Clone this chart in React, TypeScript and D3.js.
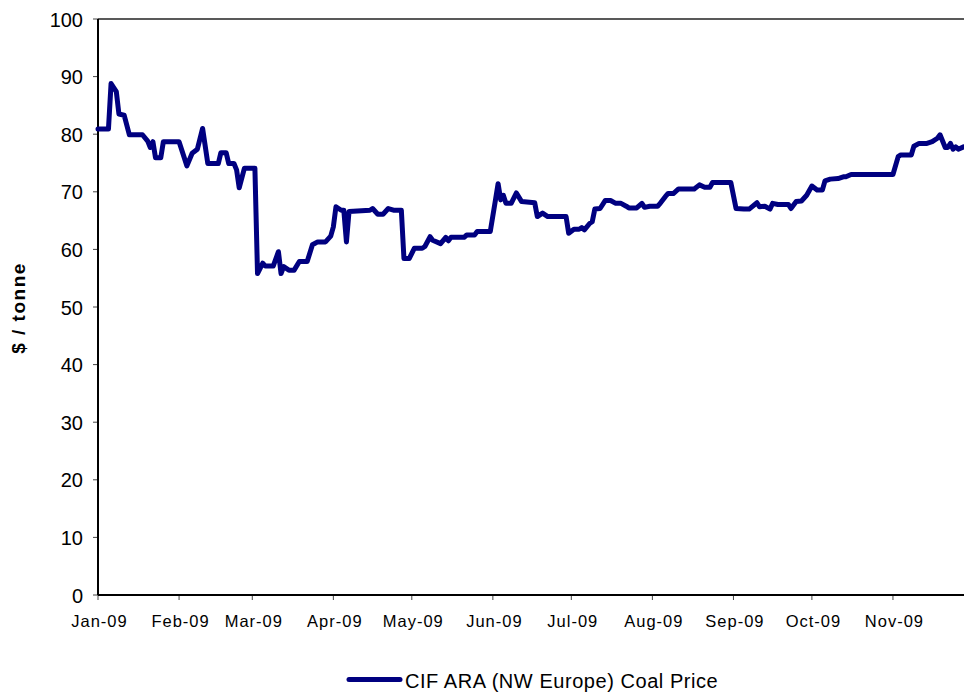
import React from "react";
import * as d3 from "d3";

const dates: string[] = [
  "2009-01-01","2009-01-05","2009-01-06","2009-01-08","2009-01-09","2009-01-11","2009-01-13","2009-01-18",
  "2009-01-20","2009-01-21","2009-01-22","2009-01-23","2009-01-25","2009-01-26","2009-02-01","2009-02-04",
  "2009-02-06","2009-02-08","2009-02-10","2009-02-12","2009-02-16","2009-02-17","2009-02-19","2009-02-20",
  "2009-02-22","2009-02-23","2009-02-24","2009-02-26","2009-03-02","2009-03-03","2009-03-05","2009-03-06",
  "2009-03-09","2009-03-11","2009-03-12","2009-03-13","2009-03-15","2009-03-17","2009-03-19","2009-03-22",
  "2009-03-24","2009-03-26","2009-03-29","2009-03-31","2009-04-01","2009-04-02","2009-04-04","2009-04-05",
  "2009-04-06","2009-04-07","2009-04-15","2009-04-16","2009-04-18","2009-04-20","2009-04-22","2009-04-24",
  "2009-04-27","2009-04-28","2009-04-30","2009-05-02","2009-05-05","2009-05-06","2009-05-08","2009-05-09",
  "2009-05-12","2009-05-14","2009-05-15","2009-05-16","2009-05-21","2009-05-22","2009-05-25","2009-05-26",
  "2009-05-31","2009-06-02","2009-06-03","2009-06-04","2009-06-05","2009-06-06","2009-06-08","2009-06-10",
  "2009-06-12","2009-06-17","2009-06-18","2009-06-20","2009-06-22","2009-06-29","2009-06-30","2009-07-02",
  "2009-07-04","2009-07-05","2009-07-06","2009-07-08","2009-07-09","2009-07-10","2009-07-12","2009-07-14",
  "2009-07-16","2009-07-18","2009-07-20","2009-07-22","2009-07-23","2009-07-26","2009-07-28","2009-07-29",
  "2009-07-31","2009-08-03","2009-08-04","2009-08-06","2009-08-07","2009-08-09","2009-08-11","2009-08-17",
  "2009-08-19","2009-08-21","2009-08-23","2009-08-24","2009-08-31","2009-09-02","2009-09-05","2009-09-07",
  "2009-09-10","2009-09-11","2009-09-13","2009-09-15","2009-09-16","2009-09-18","2009-09-22","2009-09-23",
  "2009-09-25","2009-09-27","2009-09-29","2009-10-01","2009-10-03","2009-10-05","2009-10-06","2009-10-08",
  "2009-10-11","2009-10-13","2009-10-14","2009-10-16","2009-11-01","2009-11-03","2009-11-04","2009-11-08",
  "2009-11-09","2009-11-11","2009-11-14","2009-11-16","2009-11-18","2009-11-19","2009-11-21","2009-11-22",
  "2009-11-23","2009-11-24","2009-11-25","2009-11-26","2009-11-28"
];

const prices: number[] = [
  80.9,80.9,88.8,87.4,83.5,83.3,79.9,79.9,
  78.8,77.7,78.7,75.9,75.9,78.7,78.7,74.5,
  76.7,77.4,81.0,74.9,74.9,76.8,76.8,74.9,
  74.9,73.8,70.7,74.1,74.1,55.8,57.6,57.1,
  57.1,59.6,55.8,57.0,56.4,56.4,57.9,57.9,
  60.8,61.3,61.3,62.3,63.9,67.4,66.8,66.8,
  61.3,66.6,66.8,67.1,66.1,66.1,67.1,66.8,
  66.8,58.4,58.4,60.2,60.2,60.5,62.2,61.6,
  61.0,62.1,61.5,62.1,62.1,62.5,62.5,63.1,
  63.1,68.6,71.4,68.6,69.4,68.0,68.0,69.8,
  68.3,68.1,65.7,66.3,65.7,65.7,62.8,63.5,
  63.5,63.8,63.4,64.5,64.8,67.0,67.1,68.5,
  68.5,68.0,68.0,67.5,67.2,67.2,68.0,67.3,
  67.5,67.5,68.0,69.2,69.7,69.7,70.5,70.5,
  71.2,70.8,70.8,71.6,71.6,67.1,67.0,67.0,
  68.1,67.4,67.5,67.0,68.0,67.8,67.8,67.1,
  68.3,68.4,69.4,71.0,70.3,70.3,71.9,72.2,
  72.3,72.6,72.6,73.0,73.0,76.1,76.4,76.4,
  77.9,78.4,78.4,78.7,79.3,79.9,77.7,77.7,
  78.4,77.4,77.8,77.4,77.8
];

const yTicks: number[] = [0, 10, 20, 30, 40, 50, 60, 70, 80, 90, 100];
const seriesName = "CIF ARA (NW Europe) Coal Price";
const yTitle = "$ / tonne";

export default function App() {
  const W = 964, H = 693;
  const left = 98, right = 964, top = 19, bottom = 595;
  const parse = d3.timeParse("%Y-%m-%d");
  const data = dates.map((d, i) => ({ date: parse(d) as Date, value: prices[i] }));

  const x = d3.scaleTime()
    .domain([new Date(2009, 0, 1), new Date(2009, 10, 28, 4)])
    .range([left, right]);
  const y = d3.scaleLinear().domain([0, 100]).range([bottom, top]);

  const monthTicks = d3.timeMonth.range(new Date(2009, 0, 1), new Date(2009, 11, 1));
  const fmt = d3.timeFormat("%b-%y");

  const line = d3.line<{ date: Date; value: number }>()
    .x(d => x(d.date))
    .y(d => y(d.value));

  const font = "Arial, 'Liberation Sans', sans-serif";

  return (
    <svg width={W} height={H} style={{ position: "absolute", left: 0, top: 0, display: "block", background: "#fff" }}>
      {/* top border */}
      <line x1={left} x2={right} y1={top} y2={top} stroke="#222" strokeWidth={1.5} />
      {/* y ticks & labels */}
      {yTicks.map(t => (
        <g key={t}>
          <line x1={left - 5} x2={left} y1={y(t)} y2={y(t)} stroke="#444" strokeWidth={1} />
          <text x={83} y={y(t) + 7.5} textAnchor="end" fontFamily={font} fontSize={20} fill="#000">{t}</text>
        </g>
      ))}
      {/* x ticks & labels */}
      {monthTicks.map(m => (
        <g key={m.getTime()}>
          <line x1={x(m)} x2={x(m)} y1={bottom} y2={bottom + 5} stroke="#444" strokeWidth={1} />
          <text x={x(m) + 1.5} y={627} textAnchor="middle" fontFamily={font} fontSize={16.5} letterSpacing={1} fill="#000">{fmt(m)}</text>
        </g>
      ))}
      {/* axes */}
      <line x1={left} x2={left} y1={top} y2={bottom} stroke="#000" strokeWidth={2} />
      <line x1={left} x2={right} y1={bottom} y2={bottom} stroke="#000" strokeWidth={2} />
      {/* series */}
      <path d={line(data) || ""} fill="none" stroke="#000080" strokeWidth={5} strokeLinejoin="round" strokeLinecap="round" />
      {/* y title */}
      <text transform={`translate(24.5,308) rotate(-90)`} textAnchor="middle" fontFamily={font} fontWeight="bold" fontSize={19} letterSpacing={1.5} fill="#000">{yTitle}</text>
      {/* legend */}
      <line x1={349} x2={400} y1={679.5} y2={679.5} stroke="#000080" strokeWidth={5} strokeLinecap="round" />
      <text x={405} y={688} fontFamily={font} fontSize={20} fill="#000" letterSpacing={0.55}>{seriesName}</text>
    </svg>
  );
}
